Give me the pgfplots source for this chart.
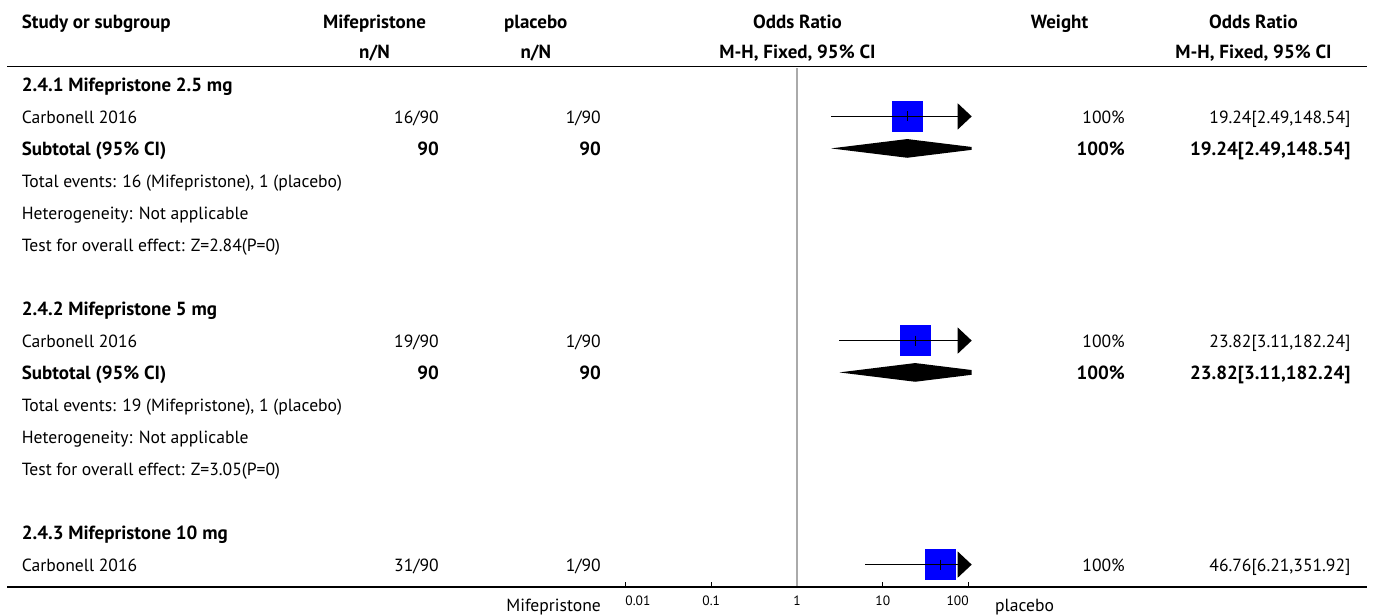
\documentclass[border=0pt]{standalone}
\usepackage{pgfplots}
\pgfplotsset{compat=1.18}
\usepackage{pgfplotstable}
\usepackage{fontspec}
\setmainfont{PT Sans}
\usetikzlibrary{arrows.meta}
\definecolor{refline}{RGB}{170,170,170}
\definecolor{sqblue}{RGB}{0,0,255}
\pgfplotstableread{
or lo hi y
19.24 2.49 148.54 116.4
23.82 3.11 182.24 340.6
46.76 6.21 351.92 564.6
}\studies
\newcommand{\bodyfont}{\fontsize{17.6}{20}\selectfont}
\newcommand{\B}{\fontsize{19}{21}\selectfont\bfseries}
\newcommand{\rowL}[2]{\node[anchor=base west] at (21.7pt,{-(91.7+32*#1)*1pt}) {#2};}
\newcommand{\rowR}[3]{\node[anchor=base east] at (#1pt,{-(91.7+32*#2)*1pt}) {#3};}
\begin{document}
\begin{tikzpicture}[every node/.style={font=\bodyfont, inner sep=0pt}]
\path[use as bounding box] (0pt,0pt) rectangle (1375pt,-615pt);
\begin{axis}[
  at={(622.3pt,-587pt)}, anchor=south west,
  scale only axis, width=349.4pt, height=519pt,
  xmode=log, xmin=0.00920, xmax=108.64,
  ymin=68, ymax=587, y dir=reverse,
  axis x line*=bottom, axis y line=none,
  x axis line style={-, black, line width=1.2pt},
  xtick={0.01,0.1,1,10,100},
  xticklabels={\makebox[0pt][l]{0.01},0.1,1,10,\makebox[0pt][r]{100}},
  xminorticks=false,
  tick align=inside, xtick pos=bottom,
  major tick length=5pt,
  tick style={black, line width=0.8pt},
  xticklabel style={anchor=base, yshift=-18.7pt, inner sep=0pt, font=\fontsize{13.5}{15}\selectfont},
]
\addplot[refline, line width=1.5pt] coordinates {(1,68) (1,587)};
% study squares (weight 100%), 31 px wide around the odds ratio
\addplot[fill=sqblue, draw=none] coordinates {(12.69,100.9) (29.17,100.9) (29.17,131.9) (12.69,131.9)};
\addplot[fill=sqblue, draw=none] coordinates {(15.71,325.1) (36.11,325.1) (36.11,356.1) (15.71,356.1)};
\addplot[fill=sqblue, draw=none] coordinates {(30.85,549.1) (70.88,549.1) (70.88,580.1) (30.85,580.1)};
% confidence intervals (upper limits beyond the axis: arrows)
\addplot[black, line width=1.2pt, -{Triangle[length=14pt,width=26pt]}] coordinates {(2.49,116.4) (108.64,116.4)};
\addplot[black, line width=1.2pt, -{Triangle[length=14pt,width=26pt]}] coordinates {(3.11,340.6) (108.64,340.6)};
\addplot[black, line width=1.2pt, -{Triangle[length=14pt,width=26pt]}] coordinates {(6.21,564.6) (108.64,564.6)};
\addplot[only marks, mark=|, mark size=5pt, black, line width=1pt] table[x=or,y=y]{\studies};
% subtotal diamonds
\addplot[fill=black, draw=none] coordinates {(2.49,148.4) (19.24,139.05) (148.54,148.4) (19.24,157.75)};
\addplot[fill=black, draw=none] coordinates {(3.11,372.4) (23.82,363.05) (182.24,372.4) (23.82,381.75)};
\end{axis}
% rules
\draw[line width=1.2pt] (7pt,-66.7pt) -- (1367pt,-66.7pt);
\draw[line width=1.2pt] (7pt,-587pt) -- (1367pt,-587pt);
% header
\node[anchor=base west] at (21.7pt,-28.3pt) {\B Study or subgroup};
\node[anchor=base] at (374.5pt,-28.3pt) {\B Mifepristone};
\node[anchor=base] at (374.5pt,-59pt) {\B n/N};
\node[anchor=base] at (535.8pt,-28.3pt) {\B placebo};
\node[anchor=base] at (535.8pt,-59pt) {\B n/N};
\node[anchor=base] at (797.5pt,-28.3pt) {\B Odds Ratio};
\node[anchor=base] at (797.5pt,-59pt) {\B M-H, Fixed, 95\% CI};
\node[anchor=base] at (1059.5pt,-28.3pt) {\B Weight};
\node[anchor=base] at (1253.5pt,-28.3pt) {\B Odds Ratio};
\node[anchor=base] at (1253.5pt,-59pt) {\B M-H, Fixed, 95\% CI};
% group 1
\rowL{0}{\B 2.4.1 Mifepristone 2.5 mg}
\rowL{1}{Carbonell 2016}
\rowR{439}{1}{16/90}\rowR{601}{1}{1/90}\rowR{1125}{1}{100\%}\rowR{1350.7}{1}{19.24[2.49,148.54]}
\rowL{2}{\B Subtotal (95\% CI)}
\rowR{439}{2}{\B 90}\rowR{601}{2}{\B 90}\rowR{1125}{2}{\B 100\%}\rowR{1350.7}{2}{\B 19.24[2.49,148.54]}
\rowL{3}{Total events: 16 (Mifepristone), 1 (placebo)}
\rowL{4}{Heterogeneity: Not applicable}
\rowL{5}{Test for overall effect: Z=2.84(P=0)}
% group 2
\rowL{7}{\B 2.4.2 Mifepristone 5 mg}
\rowL{8}{Carbonell 2016}
\rowR{439}{8}{19/90}\rowR{601}{8}{1/90}\rowR{1125}{8}{100\%}\rowR{1350.7}{8}{23.82[3.11,182.24]}
\rowL{9}{\B Subtotal (95\% CI)}
\rowR{439}{9}{\B 90}\rowR{601}{9}{\B 90}\rowR{1125}{9}{\B 100\%}\rowR{1350.7}{9}{\B 23.82[3.11,182.24]}
\rowL{10}{Total events: 19 (Mifepristone), 1 (placebo)}
\rowL{11}{Heterogeneity: Not applicable}
\rowL{12}{Test for overall effect: Z=3.05(P=0)}
% group 3
\rowL{14}{\B 2.4.3 Mifepristone 10 mg}
\rowL{15}{Carbonell 2016}
\rowR{439}{15}{31/90}\rowR{601}{15}{1/90}\rowR{1125}{15}{100\%}\rowR{1350.7}{15}{46.76[6.21,351.92]}
% bottom labels
\node[anchor=base east] at (601pt,-611pt) {Mifepristone};
\node[anchor=base west] at (995pt,-611pt) {placebo};
\end{tikzpicture}
\end{document}
